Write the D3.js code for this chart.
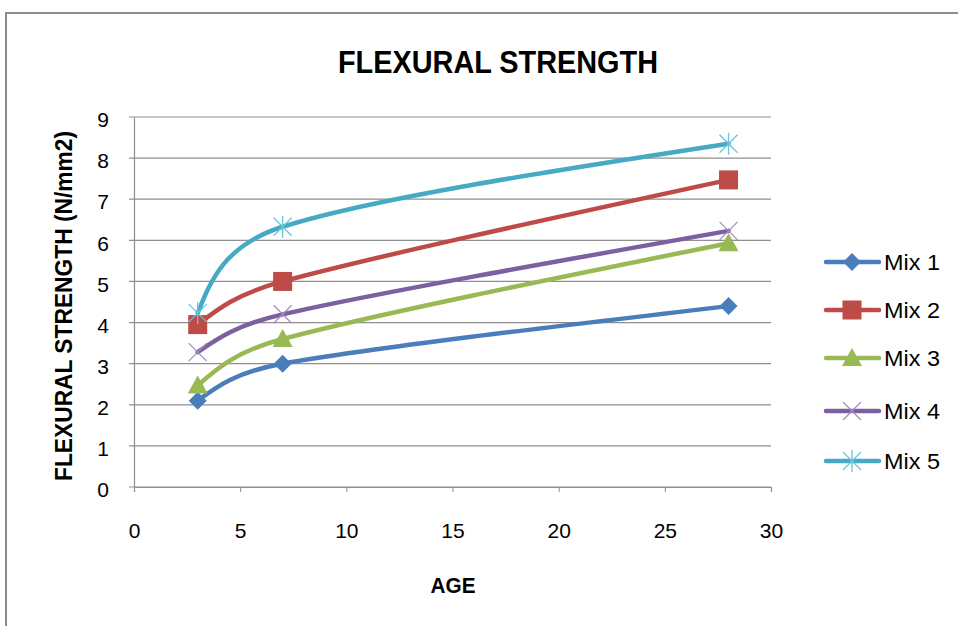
<!DOCTYPE html>
<html>
<head>
<meta charset="utf-8">
<script src="https://d3js.org/d3.v7.min.js"></script>
<style>
  html, body { margin: 0; padding: 0; background: #fff; }
  svg { display: block; }
  text { font-family: "Liberation Sans", "DejaVu Sans", sans-serif; fill: #000; }
</style>
</head>
<body>
<svg id="chart" width="958" height="626"></svg>
<script>
// Age in days and flexural strength (N/mm2) for each mix
const ages = [3, 7, 28];
const mix1 = [2.1, 3.0, 4.4];
const mix2 = [3.95, 5.0, 7.47];
const mix3 = [2.47, 3.6, 5.93];
const mix4 = [3.28, 4.2, 6.23];
const mix5 = [4.23, 6.33, 8.35];
const seriesNames = ["Mix 1", "Mix 2", "Mix 3", "Mix 4", "Mix 5"];
const seriesValues = [mix1, mix2, mix3, mix4, mix5];
const xTicks = [0, 5, 10, 15, 20, 25, 30];
const yTicks = [0, 1, 2, 3, 4, 5, 6, 7, 8, 9];

const colors = ["#4A7EBB", "#BE4B48", "#98B954", "#7D60A0", "#46AAC5"];
const markerColors = ["#4A7EBB", "#BE4B48", "#98B954", "#A38DC4", "#6CC3DC"];
const markerTypes = ["diamond", "square", "triangle", "x", "star"];

// Smoothed line curve: Bezier segments whose interior tangents follow the
// neighbouring points, with handle lengths capped by the segment length.
function SmoothCurve(context) { this._context = context; }
SmoothCurve.prototype = {
  areaStart() { this._line = 0; },
  areaEnd() { this._line = NaN; },
  lineStart() { this._pts = []; },
  point(px, py) { this._pts.push([+px, +py]); },
  lineEnd() {
    const p = this._pts, n = p.length, ctx = this._context;
    if (!n) return;
    ctx.moveTo(p[0][0], p[0][1]);
    if (n === 1) return;
    if (n === 2) { ctx.lineTo(p[1][0], p[1][1]); return; }
    const dist = (a, b) => Math.hypot(b[0] - a[0], b[1] - a[1]);
    // handles[i] = [incoming control, outgoing control]
    const handles = new Array(n);
    for (let i = 1; i < n - 1; i++) {
      const dx = p[i + 1][0] - p[i - 1][0], dy = p[i + 1][1] - p[i - 1][1];
      const d = Math.hypot(dx, dy) || 1;
      const ux = dx / d, uy = dy / d;
      const lIn = Math.min(d / 6, dist(p[i - 1], p[i]) / 2);
      const lOut = Math.min(d / 6, dist(p[i], p[i + 1]) / 2);
      handles[i] = [[p[i][0] - ux * lIn, p[i][1] - uy * lIn],
                    [p[i][0] + ux * lOut, p[i][1] + uy * lOut]];
    }
    // end points: handle halfway towards the neighbouring handle
    handles[0] = [null, [(p[0][0] + handles[1][0][0]) / 2, (p[0][1] + handles[1][0][1]) / 2]];
    handles[n - 1] = [[(p[n - 1][0] + handles[n - 2][1][0]) / 2, (p[n - 1][1] + handles[n - 2][1][1]) / 2], null];
    for (let i = 0; i < n - 1; i++) {
      const c1 = handles[i][1], c2 = handles[i + 1][0];
      ctx.bezierCurveTo(c1[0], c1[1], c2[0], c2[1], p[i + 1][0], p[i + 1][1]);
    }
  }
};
const curveSmooth = context => new SmoothCurve(context);

const svg = d3.select("#chart");

// outer frame (top and left edges)
svg.append("path")
  .attr("d", "M6,626 L6,13 L958,13")
  .attr("fill", "none").attr("stroke", "#8c8c8c").attr("stroke-width", 2);

const plot = { left: 134, right: 771, top: 117, bottom: 487 };
const x = d3.scaleLinear().domain([0, 30]).range([plot.left, plot.right]);
const y = d3.scaleLinear().domain([0, 9]).range([plot.bottom, plot.top]);

// horizontal gridlines
svg.append("g").selectAll("line").data(yTicks).join("line")
  .attr("x1", plot.left - 5).attr("x2", plot.right)
  .attr("y1", d => y(d)).attr("y2", d => y(d))
  .attr("stroke", "#8f8f8f").attr("stroke-width", 1.2);

// axes
const yAxis = d3.axisLeft(y).tickValues(yTicks).tickSize(0).tickPadding(25);
const gy = svg.append("g").attr("transform", `translate(${plot.left},0)`).call(yAxis);
gy.select(".domain").attr("stroke", "#8f8f8f").attr("stroke-width", 1.2);
gy.selectAll("text").attr("font-size", 21).attr("dy", "0.46em");

const xAxis = d3.axisBottom(x).tickValues(xTicks).tickSize(5).tickPadding(46);
const gx = svg.append("g").attr("transform", `translate(0,${plot.bottom})`).call(xAxis);
gx.select(".domain").attr("stroke", "#8f8f8f").attr("stroke-width", 1.2);
gx.selectAll(".tick line").attr("stroke", "#8f8f8f");
gx.selectAll("text").attr("font-size", 21).attr("dy", "0");

// titles
svg.append("text").attr("x", 498).attr("y", 73).attr("text-anchor", "middle")
  .attr("font-size", 31).attr("font-weight", "bold").attr("textLength", 320)
  .attr("lengthAdjust", "spacingAndGlyphs").text("FLEXURAL STRENGTH");
svg.append("text").attr("x", 453).attr("y", 593).attr("text-anchor", "middle")
  .attr("font-size", 22).attr("font-weight", "bold").attr("textLength", 45)
  .attr("lengthAdjust", "spacingAndGlyphs").text("AGE");
svg.append("text").attr("transform", "translate(72,306) rotate(-90)")
  .attr("text-anchor", "middle").attr("font-size", 23).attr("font-weight", "bold")
  .attr("textLength", 350).attr("lengthAdjust", "spacingAndGlyphs")
  .text("FLEXURAL STRENGTH (N/mm2)");

// marker drawing
function drawMarker(g, type, cx, cy, color) {
  if (type === "diamond") {
    g.append("path").attr("d", `M${cx},${cy - 9} L${cx + 9},${cy} L${cx},${cy + 9} L${cx - 9},${cy} Z`)
      .attr("fill", color);
  } else if (type === "square") {
    g.append("rect").attr("x", cx - 9.5).attr("y", cy - 9.5).attr("width", 19).attr("height", 19)
      .attr("fill", color);
  } else if (type === "triangle") {
    g.append("path").attr("d", `M${cx},${cy - 10} L${cx + 10},${cy + 8} L${cx - 10},${cy + 8} Z`)
      .attr("fill", color);
  } else if (type === "x") {
    g.append("path").attr("d", `M${cx - 9},${cy - 9} L${cx + 9},${cy + 9} M${cx + 9},${cy - 9} L${cx - 9},${cy + 9}`)
      .attr("stroke", color).attr("stroke-width", 1.3).attr("fill", "none");
  } else if (type === "star") {
    g.append("path").attr("d", `M${cx - 9},${cy - 9} L${cx + 9},${cy + 9} M${cx + 9},${cy - 9} L${cx - 9},${cy + 9} M${cx},${cy - 11} L${cx},${cy + 11}`)
      .attr("stroke", color).attr("stroke-width", 1.3).attr("fill", "none");
  }
}

const line = d3.line().x(d => x(d[0])).y(d => y(d[1])).curve(curveSmooth);

seriesValues.forEach((vals, i) => {
  const pts = ages.map((a, j) => [a, vals[j]]);
  const g = svg.append("g");
  g.append("path").datum(pts).attr("d", line)
    .attr("fill", "none").attr("stroke", colors[i]).attr("stroke-width", 4.5)
    .attr("stroke-linecap", "round");
  pts.forEach(p => drawMarker(g, markerTypes[i], x(p[0]), y(p[1]), markerColors[i]));
});

// legend
const legendY = [262, 310, 358, 411, 461];
seriesNames.forEach((name, i) => {
  const g = svg.append("g");
  g.append("line").attr("x1", 826).attr("x2", 879).attr("y1", legendY[i]).attr("y2", legendY[i])
    .attr("stroke", colors[i]).attr("stroke-width", 4.5).attr("stroke-linecap", "round");
  drawMarker(g, markerTypes[i], 852, legendY[i], markerColors[i]);
  g.append("text").attr("x", 884).attr("y", legendY[i]).attr("dy", "0.36em")
    .attr("font-size", 22).attr("textLength", 56).attr("lengthAdjust", "spacingAndGlyphs")
    .text(name);
});
</script>
</body>
</html>
